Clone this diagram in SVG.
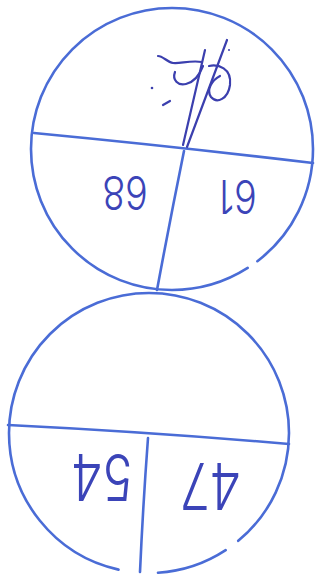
<svg xmlns="http://www.w3.org/2000/svg" width="320" height="580" viewBox="0 0 320 580">
<style>
.ln{fill:none;stroke:#4a6cd6;stroke-width:2.6;stroke-linecap:round;stroke-linejoin:round}
.ink{fill:none;stroke:#3b3fae;stroke-width:2.2;stroke-linecap:round;stroke-linejoin:round}
.num{font-family:Inter,"Open Sans","Liberation Sans",sans-serif;fill:#3b44b8;text-anchor:middle;font-weight:300}
</style>
<rect width="320" height="580" fill="#ffffff"/>
<g id="circle-top">
<circle class="ln" cx="172" cy="149" r="141" stroke-dasharray="129.7 11.8 744.4"/>
<path class="ln" d="M34 133 Q170 146 313 163"/>
<path class="ln" d="M184 151 Q170 220 157 290"/>
<text class="num" font-size="46" transform="translate(125 193) rotate(180) scale(0.82 1)" x="0" y="16.5">68</text>
<text class="num" font-size="46" transform="translate(238 197) rotate(180) scale(0.82 1)" x="0" y="16.5">61</text>
</g>
<g id="mark-top">
<path class="ink" d="M158 56 C163 56 167 62 173 63 C180 64 190 60 202 62"/>
<path class="ink" d="M175 72 C172 80 178 86 186 84 C194 82 200 74 203 66"/>
<path class="ink" d="M205 50 L183 145"/>
<path class="ink" d="M227 40 L187 147"/>
<path class="ink" d="M209 66 C218 64 232 68 230 85 C228 99 217 104 211 97 C206 90 212 80 220 76"/>
<path class="ink" d="M163 105 L170 101"/>
<circle cx="152" cy="88" r="1.3" fill="#3b3fae"/>
<circle cx="229" cy="50" r="1" fill="#3b3fae"/>
</g>
<g id="circle-bottom">
<circle class="ln" cx="149" cy="433" r="140" stroke-dasharray="123.1 15.6 72.1 39.8 628.9"/>
<path class="ln" d="M8 425 Q150 432 289 444"/>
<path class="ln" d="M148 438 Q143 505 140 572"/>
<text class="num" font-size="64" transform="translate(102 477) rotate(180) scale(0.8 1)" x="0" y="23">54</text>
<text class="num" font-size="64" transform="translate(211 486) rotate(180) scale(0.8 1)" x="0" y="23">47</text>
</g>
<g id="connectors"/>
</svg>
